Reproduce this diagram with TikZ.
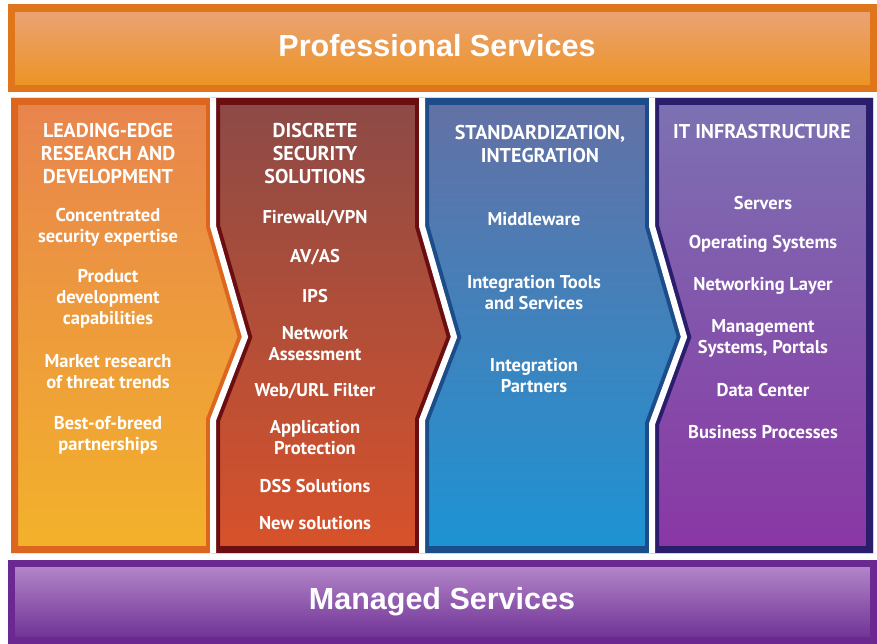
\documentclass[tikz,border=0pt]{standalone}
\usepackage{fontspec}
\setmainfont{PT Sans}
\newfontfamily\bannerfont{Liberation Sans}
\usepackage{tikz}
\usetikzlibrary{calc}
\pgfdeclarelayer{background}
\pgfsetlayers{background,main}

\definecolor{profframe}{HTML}{E0761C}
\definecolor{proftop}{HTML}{EBA47C}
\definecolor{profmid}{HTML}{E98E3A}
\definecolor{profbot}{HTML}{EC921C}
\definecolor{leadframe}{HTML}{DC661E}
\definecolor{leadtop}{HTML}{E8844E}
\definecolor{leadmid}{HTML}{EB8C2E}
\definecolor{leadbot}{HTML}{F3B22A}
\definecolor{discframe}{HTML}{6A0E12}
\definecolor{disctop}{HTML}{8C4A46}
\definecolor{discmid}{HTML}{A3302E}
\definecolor{discbot}{HTML}{D8522A}
\definecolor{stdframe}{HTML}{1C4C8A}
\definecolor{stdtop}{HTML}{6470A4}
\definecolor{stdmid}{HTML}{3A6AAC}
\definecolor{stdbot}{HTML}{1C94D4}
\definecolor{infraframe}{HTML}{2A1E6C}
\definecolor{infratop}{HTML}{7C72B2}
\definecolor{inframid}{HTML}{4C3A96}
\definecolor{infrabot}{HTML}{8A36A4}
\definecolor{mgdframe}{HTML}{6A2890}
\definecolor{mgdtop}{HTML}{B88CCC}
\definecolor{mgdbot}{HTML}{6A2C92}

\tikzstyle{banner}  = [text=white, font=\bannerfont\bfseries\fontsize{30.5}{36}\selectfont]
\tikzstyle{heading} = [text=white, align=center, inner sep=0pt, font=\bfseries\fontsize{20}{23}\selectfont]
\tikzstyle{item}    = [text=white, align=center, inner sep=0pt, font=\bfseries\fontsize{18.5}{21}\selectfont]
\tikzstyle{gap}     = [draw=white, line width=6pt, line join=miter]

% glossy panel: path, frame, top, middle, bottom
\newcommand{\panel}[5]{%
  \begin{scope}
    \clip #1;
    \shade[top color=#3, middle color=#4, bottom color=#5] #1;
    \draw[#2, line width=14pt] #1;
  \end{scope}}

\begin{document}
\begin{tikzpicture}[x=1pt, y=-1pt]
    \useasboundingbox (0,0) rectangle (877,644);

    \begin{pgfonlayer}{background}
      \fill[white] (0,0) rectangle (877,644);
      \panel{(8,5) rectangle (877,92)}{profframe}{proftop}{profmid}{profbot}
      \panel{(11,98) -- (213,98) -- (213,226) -- (245,337) -- (213,420) -- (213,553) -- (11,553) -- cycle}{leadframe}{leadtop}{leadmid}{leadbot}
      \panel{(213,98) -- (422,98) -- (422,226) -- (454,337) -- (422,420) -- (422,553) -- (213,553) -- (213,420) -- (245,337) -- (213,226) -- cycle}{discframe}{disctop}{discmid}{discbot}
      \panel{(422,98) -- (652,98) -- (652,226) -- (684,337) -- (652,424) -- (652,553) -- (422,553) -- (422,420) -- (454,337) -- (422,226) -- cycle}{stdframe}{stdtop}{stdmid}{stdbot}
      \panel{(652,98) -- (873,98) -- (873,553) -- (652,553) -- (652,424) -- (684,337) -- (652,226) -- cycle}{infraframe}{infratop}{inframid}{infrabot}
      \panel{(8,560) rectangle (877,644)}{mgdframe}{mgdtop}{mgdbot}{mgdbot}

      % gaps
      \draw[gap] (213,98) -- (213,226) -- (245,337) -- (213,420) -- (213,553);
      \draw[gap] (422,98) -- (422,226) -- (454,337) -- (422,420) -- (422,553);
      \draw[gap] (652,98) -- (652,226) -- (684,337) -- (652,424) -- (652,553);
    \end{pgfonlayer}

    \node (prof)    [banner] at (437,46)  {Professional Services};
    \node (managed) [banner] at (442,602) {Managed Services};

    % leading-edge research
    \node (lead)  [heading] at (108,154) {LEADING-EDGE\\RESEARCH AND\\DEVELOPMENT};
    \node (lead1) [item] at (108,227) {Concentrated\\security expertise};
    \node (lead2) [item] at (108,299) {Product\\development\\capabilities};
    \node (lead3) [item] at (108,372) {Market research\\of threat trends};
    \node (lead4) [item] at (108,435) {Best-of-breed\\partnerships};

    % discrete security
    \node (disc)  [heading] at (315,154) {DISCRETE\\SECURITY\\SOLUTIONS};
    \node (disc1) [item] at (315,218) {Firewall/VPN};
    \node (disc2) [item] at (315,257) {AV/AS};
    \node (disc3) [item] at (315,296) {IPS};
    \node (disc4) [item] at (315,344) {Network\\Assessment};
    \node (disc5) [item] at (315,391) {Web/URL Filter};
    \node (disc6) [item] at (315,438) {Application\\Protection};
    \node (disc7) [item] at (315,486) {DSS Solutions};
    \node (disc8) [item] at (315,523) {New solutions};

    % standardization
    \node (std)  [heading] at (540,144) {STANDARDIZATION,\\INTEGRATION};
    \node (std1) [item] at (534,219) {Middleware};
    \node (std2) [item] at (534,293) {Integration Tools\\and Services};
    \node (std3) [item] at (534,376) {Integration\\Partners};

    % it infrastructure
    \node (infra)  [heading] at (762,132) {IT INFRASTRUCTURE};
    \node (infra1) [item] at (763,203) {Servers};
    \node (infra2) [item] at (763,244) {Operating Systems};
    \node (infra3) [item] at (763,286) {Networking Layer};
    \node (infra4) [item] at (763,338) {Management\\Systems, Portals};
    \node (infra5) [item] at (763,390) {Data Center};
    \node (infra6) [item] at (763,432) {Business Processes};
\end{tikzpicture}
\end{document}
